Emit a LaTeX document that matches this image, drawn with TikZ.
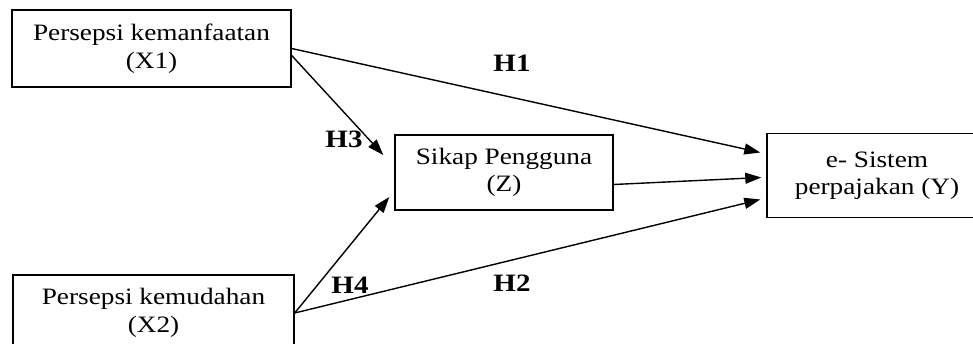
\documentclass[tikz,border=0pt]{standalone}
\usepackage{fontspec}
\setmainfont{Liberation Serif}[FakeStretch=1.16]
\usetikzlibrary{arrows.meta,calc}
\begin{document}
\begin{tikzpicture}[x=1pt,y=-1pt,
  box/.style={draw,line width=1.4pt,align=center,inner sep=0pt,
    font=\fontsize{23.5}{27.5}\selectfont},
  lab/.style={font=\fontsize{25}{29}\selectfont\bfseries},
  conn/.style={line width=1.4pt,-{Triangle[length=16pt,width=11pt]}}]
\useasboundingbox (0,0) rectangle (973,344);
\clip (0,0) rectangle (973,344);
\node[box,minimum width=279pt,minimum height=77pt] (x1) at (151.5,48.5) {Persepsi kemanfaatan\\(X1)};
\node[box,minimum width=281pt,minimum height=76pt] (x2) at (153.5,313) {Persepsi kemudahan\\(X2)};
\node[box,minimum width=218pt,minimum height=75pt] (z) at (504,172.5) {Sikap Pengguna\\(Z)};
\node[box,minimum width=220pt,minimum height=84pt] (y) at (877,175.5) {e- Sistem\\perpajakan (Y)};
\draw[conn] (x1.east) -- ([xshift=-6pt,yshift=23pt]y.west);
\draw[conn] ([yshift=-7pt]x1.east) -- ([xshift=-11pt,yshift=17.5pt]z.west);
\draw[conn] ([yshift=-12pt]z.east) -- ([xshift=-5pt,yshift=-2pt]y.west);
\draw[conn] (x2.east) -- ([xshift=-5pt,yshift=-24.5pt]z.west);
\draw[conn] (x2.east) -- ([xshift=-6pt,yshift=-24pt]y.west);
\node[lab] (h1) at (512,63) {H1};
\node[lab] (h2) at (512,283) {H2};
\node[lab] (h3) at (344,139) {H3};
\node[lab] (h4) at (350,285) {H4};
\end{tikzpicture}
\end{document}
